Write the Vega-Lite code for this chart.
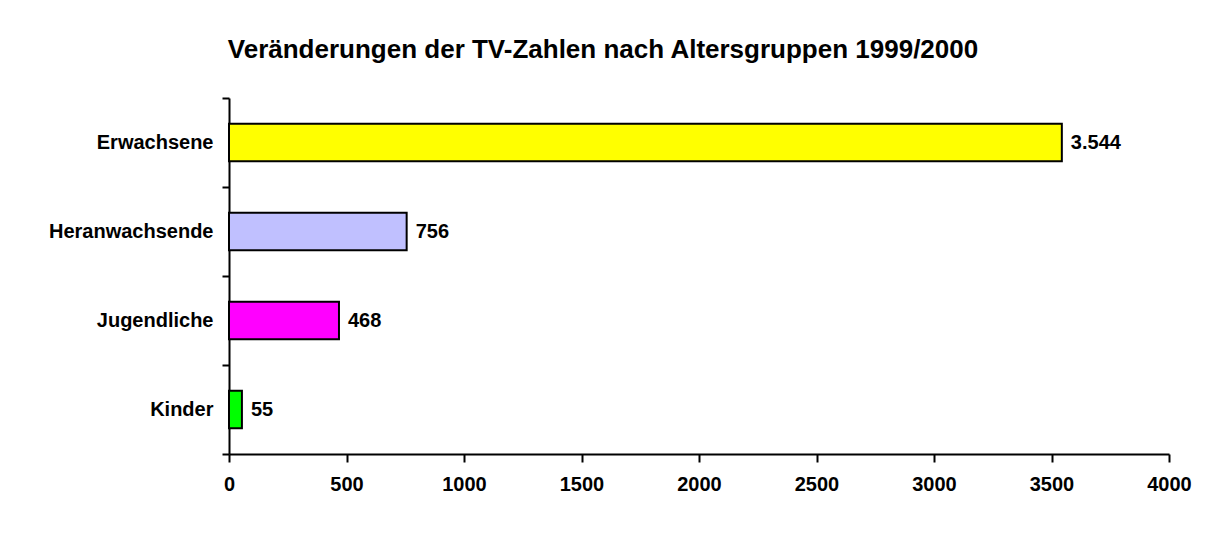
{
  "$schema": "https://vega.github.io/schema/vega-lite/v6.json",
  "width": 940,
  "height": 356,
  "autosize": {"type": "none"},
  "padding": {"left": 229, "top": 98, "right": 36, "bottom": 80},
  "background": "white",
  "title": {
    "text": "Veränderungen der TV-Zahlen nach Altersgruppen 1999/2000",
    "font": "Liberation Sans",
    "fontSize": 26,
    "fontWeight": "bold",
    "color": "black",
    "anchor": "middle",
    "frame": "group",
    "baseline": "alphabetic",
    "offset": 4,
    "dx": -96
  },
  "data": {
    "values": [
      {"gruppe": "Erwachsene", "wert": 3544, "farbe": "#FFFF00"},
      {"gruppe": "Heranwachsende", "wert": 756, "farbe": "#C0C0FF"},
      {"gruppe": "Jugendliche", "wert": 468, "farbe": "#FF00FF"},
      {"gruppe": "Kinder", "wert": 55, "farbe": "#00FF00"}
    ]
  },
  "encoding": {
    "y": {
      "field": "gruppe",
      "type": "nominal",
      "sort": null,
      "scale": {"paddingInner": 0, "paddingOuter": 0},
      "axis": {
        "title": null,
        "bandPosition": 1,
        "tickExtra": true,
        "tickSize": 7,
        "tickWidth": 2,
        "tickColor": "black",
        "domainColor": "black",
        "domainWidth": 2,
        "labelPadding": 9,
        "labelFont": "Liberation Sans",
        "labelFontSize": 20,
        "labelFontWeight": "bold",
        "labelColor": "black",
        "grid": false
      }
    },
    "x": {
      "field": "wert",
      "type": "quantitative",
      "scale": {"domain": [0, 4000], "nice": false},
      "axis": {
        "title": null,
        "values": [0, 500, 1000, 1500, 2000, 2500, 3000, 3500, 4000],
        "format": "d",
        "tickSize": 8,
        "tickWidth": 2,
        "tickColor": "black",
        "domainColor": "black",
        "domainWidth": 2,
        "labelPadding": 12,
        "labelFont": "Liberation Sans",
        "labelFontSize": 20,
        "labelFontWeight": "bold",
        "labelColor": "black",
        "labelFlush": false,
        "grid": false
      }
    }
  },
  "layer": [
    {
      "mark": {"type": "bar", "height": {"band": 0.42}, "stroke": "black", "strokeWidth": 2},
      "encoding": {
        "color": {"field": "farbe", "type": "nominal", "scale": null, "legend": null}
      }
    },
    {
      "mark": {
        "type": "text",
        "align": "left",
        "baseline": "middle",
        "dx": 9,
        "font": "Liberation Sans",
        "fontSize": 20,
        "fontWeight": "bold",
        "color": "black"
      },
      "encoding": {
        "text": {"field": "wert", "type": "quantitative", "format": ",.0f"}
      }
    }
  ],
  "config": {
    "view": {"stroke": null},
    "locale": {
      "number": {"decimal": ",", "thousands": ".", "grouping": [3], "currency": ["", " €"]}
    }
  }
}
